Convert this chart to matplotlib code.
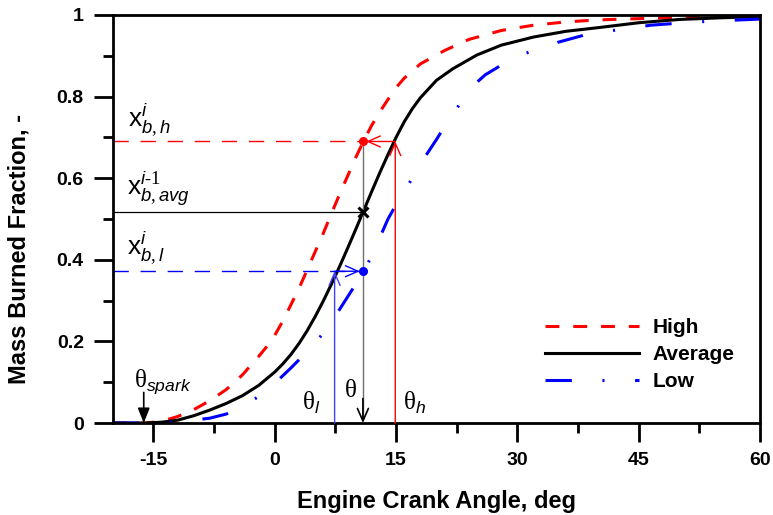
import numpy as np
import matplotlib
matplotlib.use("Agg")
from matplotlib import pyplot

# crank angle (deg) and mass burned fraction
crank_avg = [-20, -16, -14, -12, -10, -8, -6, -4, -2, 0, 1, 2, 3, 4, 5, 6, 7, 8, 9, 10, 11, 12,
             13, 14, 15, 16, 17, 18, 20, 22, 25, 28, 32, 36, 40, 45, 50, 55, 60]
mbf_avg = [0, 0, 0.002, 0.007, 0.018, 0.032, 0.048, 0.067, 0.092, 0.125, 0.145, 0.168, 0.195,
           0.226, 0.261, 0.299, 0.34, 0.383, 0.428, 0.474, 0.521, 0.568, 0.614, 0.658, 0.70,
           0.738, 0.77, 0.797, 0.84, 0.868, 0.902, 0.926, 0.946, 0.96, 0.969, 0.981, 0.989, 0.993,
           0.996]

crank_high = [-20, -16, -14, -12, -10, -8, -6, -4, -2, -1, 0, 1, 2, 3, 4, 5, 6, 7, 8, 9, 10, 11,
              12, 13, 14, 15, 16, 18, 21, 24, 28, 32, 36, 40, 45, 50, 55, 60]
mbf_high = [0, 0, 0.004, 0.016, 0.033, 0.055, 0.082, 0.118, 0.163, 0.187, 0.215, 0.25, 0.29,
            0.33, 0.375, 0.42, 0.465, 0.513, 0.56, 0.605, 0.65, 0.692, 0.73, 0.763, 0.793, 0.822,
            0.845, 0.88, 0.913, 0.94, 0.962, 0.975, 0.983, 0.988, 0.991, 0.994, 0.997, 1.0]

crank_low = [-20, -16, -14, -12, -10, -8, -6, -4, -2, 0, 2, 4, 6, 8, 10, 11, 12, 13, 14, 15, 16,
             17, 18, 19, 20, 21, 22, 23, 24, 25, 26, 28, 31, 35, 38.5, 42.5, 46.5, 50, 54, 60]
mbf_low = [0, 0, 0.001, 0.003, 0.007, 0.012, 0.022, 0.04, 0.065, 0.097, 0.135, 0.175, 0.22,
           0.278, 0.34, 0.372, 0.41, 0.455, 0.5, 0.535, 0.567, 0.6, 0.635, 0.665, 0.695, 0.727,
           0.757, 0.785, 0.812, 0.835, 0.853, 0.877, 0.906, 0.933, 0.952, 0.964, 0.975, 0.98,
           0.985, 0.99]

# annotated points
theta_spark = -16.2
theta_l, theta_avg, theta_h = 7.4, 10.9, 14.9
xb_l, xb_avg, xb_h = 0.372, 0.517, 0.69

pyplot.rcParams["font.family"] = "Liberation Sans"
pyplot.rcParams["axes.unicode_minus"] = False
pyplot.rcParams["mathtext.fontset"] = "custom"
pyplot.rcParams["mathtext.rm"] = "Liberation Serif"
pyplot.rcParams["mathtext.sf"] = "Liberation Sans"
pyplot.rcParams["mathtext.it"] = "Liberation Sans:italic"
pyplot.rcParams["lines.scale_dashes"] = False

fig = pyplot.figure(figsize=(7.73, 5.15), dpi=100)
ax = fig.add_axes([0.1462, 0.1786, 0.8370, 0.7923])

ax.plot(crank_high, mbf_high, color="red", lw=2.2, linestyle=(0, (10, 10)), label="High")
ax.plot(crank_avg, mbf_avg, color="black", lw=2.2, label="Average")
ax.plot(crank_low, mbf_low, color="blue", lw=2.2, linestyle=(0, (19, 22, 1.5, 22)), label="Low")

# guide lines
ax.plot([-20, theta_avg], [xb_h, xb_h], color="red", lw=1, linestyle=(0, (11, 8.5)))
ax.plot([-20, theta_avg], [xb_l, xb_l], color="blue", lw=1, linestyle=(0, (11, 8.5)))
ax.plot([-20, theta_avg], [xb_avg, xb_avg], color="black", lw=0.9)
ax.plot([theta_avg, theta_avg], [xb_h, 0.01], color="#707070", lw=1)

ax.plot([theta_avg], [xb_h], "o", color="red", ms=5.5)
ax.plot([theta_avg], [xb_l], "o", color="blue", ms=5.5)
ax.plot([theta_avg], [xb_avg], "x", color="black", ms=7, mew=2.2)

arrow_open = "->,head_length=0.5,head_width=0.22"
ax.annotate("", xy=(theta_h, xb_h), xytext=(theta_h, 0),
            arrowprops=dict(arrowstyle=arrow_open, color="red", lw=1, mutation_scale=18,
                            shrinkA=0, shrinkB=0))
ax.annotate("", xy=(theta_avg + 0.4, xb_h), xytext=(theta_h, xb_h),
            arrowprops=dict(arrowstyle=arrow_open, color="red", lw=1, mutation_scale=18,
                            shrinkA=0, shrinkB=0))
ax.annotate("", xy=(theta_l, xb_l), xytext=(theta_l, 0),
            arrowprops=dict(arrowstyle=arrow_open, color="#4040ff", lw=1, mutation_scale=18,
                            shrinkA=0, shrinkB=0))
ax.annotate("", xy=(theta_avg - 0.4, xb_l), xytext=(theta_l, xb_l),
            arrowprops=dict(arrowstyle=arrow_open, color="blue", lw=1, mutation_scale=18,
                            shrinkA=0, shrinkB=0))
ax.annotate("", xy=(theta_avg, 0), xytext=(theta_avg, 0.06),
            arrowprops=dict(arrowstyle=arrow_open, color="black", lw=1.2, mutation_scale=18,
                            shrinkA=0, shrinkB=0))
ax.annotate("", xy=(theta_spark, 0), xytext=(theta_spark, 0.075),
            arrowprops=dict(arrowstyle="-|>,head_length=0.5,head_width=0.2", color="black",
                            lw=1.2, mutation_scale=18, shrinkA=0, shrinkB=0))

# labels
ax.text(-17.4, 0.088, r"$\mathrm{\theta}_{\mathit{spark}}$", fontsize=18, va="baseline")
ax.text(3.4, 0.032, r"$\mathrm{\theta}_{\mathit{l}}$", fontsize=18, va="baseline")
ax.text(8.6, 0.064, r"$\mathrm{\theta}$", fontsize=18, va="baseline")
ax.text(15.8, 0.032, r"$\mathrm{\theta}_{\mathit{h}}$", fontsize=18, va="baseline")
ax.text(-18.1, 0.726, r"$\mathsf{x}_{\mathit{b,h}}^{\mathit{i}}$", fontsize=19, va="baseline")
ax.text(-18.3, 0.559, "$\\mathsf{x}_{\\mathit{b,avg}}^{\\mathit{i\u20101}}$", fontsize=19,
        va="baseline")
ax.text(-18.3, 0.412, r"$\mathsf{x}_{\mathit{b,l}}^{\mathit{i}}$", fontsize=19, va="baseline")

ax.set_xlim(-20, 60)
ax.set_ylim(0, 1)
ax.set_xticks([-15, 0, 15, 30, 45, 60])
ax.set_xticks([-7.5, 7.5, 22.5, 37.5, 52.5], minor=True)
ax.set_yticks([0, 0.2, 0.4, 0.6, 0.8, 1])
ax.set_yticklabels(["0", "0.2", "0.4", "0.6", "0.8", "1"])
ax.set_yticks([0.1, 0.3, 0.5, 0.7, 0.9], minor=True)
ax.tick_params(which="major", length=14, width=2, labelsize=14, pad=7)
ax.tick_params(which="minor", length=7, width=2)
for lab in ax.get_xticklabels() + ax.get_yticklabels():
    lab.set_fontweight("bold")
for spine in ax.spines.values():
    spine.set_linewidth(2)

ax.set_xlabel("Engine Crank Angle, deg", fontsize=17, fontweight="bold", labelpad=15)
ax.set_ylabel("Mass Burned Fraction, -", fontsize=17, fontweight="bold")
ax.yaxis.set_label_coords(-0.128, 0.426)

leg = ax.legend(loc="upper left", bbox_to_anchor=(0.668, 0.257), frameon=False,
                prop=dict(size=15, weight="bold"), handlelength=4.5, handletextpad=0.65,
                labelspacing=0.38, borderpad=0, borderaxespad=0)

pyplot.savefig("out.png", dpi=100)
